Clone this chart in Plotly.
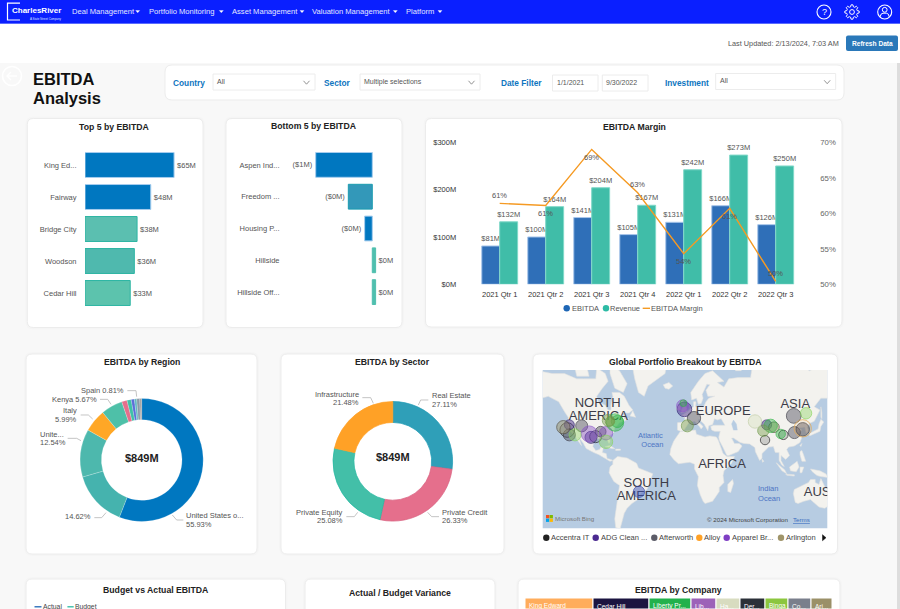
import math
import numpy as np
import plotly.graph_objects as go

W, H = 900, 609
FONT = "Liberation Sans"

# ---------- data ----------
top5_names = ["King Ed...", "Fairway", "Bridge City", "Woodson", "Cedar Hill"]
top5_values = [65, 48, 38, 36, 33]
top5_labels = ["$65M", "$48M", "$38M", "$36M", "$33M"]

bottom5_names = ["Aspen Ind...", "Freedom ...", "Housing P...", "Hillside", "Hillside Off..."]
bottom5_values = [-0.85, -0.36, -0.115, 0.05, 0.05]
bottom5_labels = ["($1M)", "($0M)", "($0M)", "$0M", "$0M"]

quarters = ["2021 Qtr 1", "2021 Qtr 2", "2021 Qtr 3", "2021 Qtr 4", "2022 Qtr 1", "2022 Qtr 2", "2022 Qtr 3"]
ebitda = [81, 100, 141, 105, 131, 166, 126]
revenue = [132, 164, 204, 167, 242, 273, 250]
margin = [61.4, 61.1, 69.0, 62.9, 54.3, 60.7, 50.4]
margin_labels = ["61%", "61%", "69%", "63%", "54%", "61%", "50%"]
margin_label_above = [True, False, False, True, False, False, True]

region_names = ["United States of America", "Region 2", "United Kingdom", "Italy", "Kenya",
                "Region 6", "Region 7", "Region 8", "Region 9", "Spain", "Region 11"]
region_values = [55.93, 14.62, 12.54, 5.99, 5.67, 1.40, 1.10, 0.84, 0.60, 0.81, 0.50]

sector_names = ["Real Estate", "Private Credit", "Private Equity", "Infrastructure"]
sector_values = [27.11, 26.33, 25.08, 21.48]

company_names = ["King Edward", "Cedar Hill", "Liberty Pr...", "Lib...", "Ha...", "Der...", "Binga", "Co...", "Ari..."]
company_values = [68, 56, 42, 25, 24, 25, 23, 23, 21]

# map points: company, lon, lat, EBITDA-like value
map_points = {
    "Accentra IT": ([-125, -95.1, 83.2, 102.5], [37.1, 31.3, 28.2, 32.9], [96, 64, 39, 39]),
    "ADG Clean ...": ([-122.8, -100, -1.7, 84.9], [41.3, 30.7, 52.4, 41.3], [44, 64, 96, 44]),
    "Afterworth": ([-122.8, -109.8, -89.8, 8.4, 113.4, 114.1, 122.9],
                   [32.9, 40.5, 35.7, 46.4, 48.0, 34.9, 37.7], [64, 64, 50, 79, 96, 64, 79]),
    "Alloy": ([122.9], [38.5], [133]),
    "Apparel Br...": ([-101.8, -84.2, -3.5], [33.7, 34.3, 54.6], [114, 79, 64]),
    "Arlington": ([-129.1, 92.6], [39.4, 39.4], [79, 50]),
    "Liberty Pr...": ([-74.7, -72.3, 89.1, 99.7, -2.8], [43.1, 43.9, 40.5, 33.7, 56.2], [133, 64, 79, 39, 20]),
    "Binga": ([-116.8, -84.2, 126.4], [32.9, 26.6, 49.8], [64, 79, 57]),
    "Hillside": ([-81.8, -80, 1.4, 81.4], [44.7, 43.9, 40.5, 36.5], [64, 39, 64, 57]),
    "Ha...": ([72.6], [43.9], [79]),
    "Aspen Ind...": ([-49.5], [-24.3], [57]),
}
map_label_text = ["NORTH", "AMERICA", "EUROPE", "ASIA", "AFRICA", "SOUTH", "AMERICA", "AUS"]
map_label_lon = [-93, -92.3, 39.2, 115, 37.9, -41.8, -41.8, 138]
map_label_lat = [55.8, 47.1, 50.9, 55, 3.5, -16, -28.9, -25.2]
ocean_label_text = ["Atlantic", "Ocean", "Indian", "Ocean"]
ocean_label_lon = [-37.5, -35.4, 86.5, 87.5]
ocean_label_lat = [31.6, 23.6, -22, -30.7]

land_north_america = [(-168,66),(-162,70),(-156,71),(-141,70),(-128,70),(-115,68),(-108,68),(-95,68),(-94,72),(-85,70),(-82,67),(-88,64),(-94,60),(-92,57),(-85,55),(-82,52),(-79,52),(-79,55),(-77,60),(-78,62),(-70,62),(-65,60),(-60,55),(-56,52),(-60,50),(-66,50),(-70,47),(-65,49),(-65,46),(-60,46),(-66,44),(-70,43),(-72,41),(-75,39),(-76,35),(-81,32),(-80,27),(-81,25),(-83,29),(-89,30),(-94,29),(-97,27),(-98,22),(-95,18),(-91,19),(-90,21),(-87,21),(-88,16),(-84,15),(-83,10),(-79,9),(-77,8),(-80,7),(-85,10),(-92,14),(-97,16),(-105,20),(-108,25),(-113,31),(-110,23),(-115,29),(-117,32.5),(-121,35),(-124,40),(-124,47),(-128,51),(-134,57),(-145,60),(-152,59),(-165,54),(-158,58),(-165,61),(-165,64)]
land_south_america = [(-77,8),(-72,12),(-62,10.5),(-52,5),(-50,0),(-44,-2.5),(-35,-6),(-37,-12),(-39,-18),(-41,-22),(-48,-26),(-50,-31),(-57,-35),(-62,-39),(-65,-43),(-68,-50),(-69,-53),(-65,-55),(-74,-53),(-75,-47),(-73,-37),(-70,-18),(-76,-14),(-81,-5),(-80,1),(-77,4)]
land_africa = [(-6,35.8),(10,37),(11,33.5),(20,31),(25,32),(32,31),(34,28),(37,21),(39,15),(43,12),(51,12),(48,5),(40,-3),(39,-8),(40,-15),(35,-20),(35,-24),(32,-28),(28,-33),(20,-35),(18,-33),(15,-27),(12,-18),(13,-9),(9,-1),(9,4),(4,6),(-4,5),(-8,4.5),(-13,9),(-17,14),(-16,20),(-13,27),(-10,31)]
land_eurasia = [(-9,37),(-9,43),(-2,43.5),(-1,46),(-4.5,48.5),(2,51),(5,53),(8,54),(8,57),(10.5,57),(10,54),(14,54),(19,54.5),(21,57),(24,59),(30,60),(23,60),(21,63),(25,65.5),(22,65.8),(17,61),(18,59),(16,56),(13,55.5),(11,59),(6,58),(5,62),(13,67),(20,70),(28,71),(40,67),(33,66.5),(40,64.5),(45,68),(55,68.5),(68,68.5),(70,73),(80,73),(100,76),(113,74),(130,71),(140,72.5),(160,70),(180,69),(180,65),(170,60),(163,60),(162,55),(156,51),(156,57),(163,62),(155,59),(142,59),(135,54),(141,52),(135,44),(130,42.5),(127.5,39.5),(129,36),(126.5,34.5),(126,37.5),(125,39.5),(121,39),(118,39),(122,37),(119,35),(122,31),(120,26),(114,22.5),(108,21.5),(106,19),(109,13),(105,9),(100,13),(100,8),(103.5,1.5),(101,3),(98,8),(98,16),(94,16),(92,22),(87,21.5),(80,15),(80,10),(77.5,8),(73,17),(72.5,21),(67,24.5),(61,25),(57,26),(50,30),(48,30),(51,25),(56,25),(59,22.5),(55,17),(45,13),(43,13),(39,21),(35,28),(34.5,31),(36,36),(30,36),(27,37),(26,40),(29,41),(41,41),(39,44),(37,46),(33,45),(30,46),(28,41.5),(24,40.5),(23,36.5),(20,40),(19,42),(13.5,45.5),(12.5,44),(18,40),(16,38),(12,42),(9,44),(3,43),(0,39),(-2,37),(-5.5,36)]
land_islands = [
    [(-80,73),(-70,71),(-62,66),(-66,62),(-75,64),(-80,70)],
    [(-117,72),(-105,73),(-102,69),(-115,69)],
    [(-73,78),(-60,82),(-30,83),(-18,77),(-22,70),(-40,65),(-44,60),(-50,62),(-54,68),(-58,75)],
    [(-24,65.5),(-18,66.5),(-14,65),(-18,63.5),(-22,64)],
    [(-85,22),(-80,23),(-75,20),(-78,20)],
    [(-74,19.5),(-69,19.5),(-69,18.3),(-74,18.2)],
    [(49,-12),(50,-16),(47,-25),(44,-24),(44,-17)],
    [(-5,50),(1,51),(1,53),(-2,56),(-3,58.5),(-6,57),(-3,54),(-5,52)],
    [(-10,52),(-6,52),(-6,55),(-9,54.5)],
    [(130,32),(136,34),(141,36),(142,40),(145,43.5),(142,45.5),(140,42),(139,38),(133,35.5),(130,34)],
    [(142,54),(143,50),(143,46),(142,47),(142,53)],
    [(120,23),(122,25),(121,22)],
    [(120,17),(122,18),(124,13),(126,7),(122,7),(120,14)],
    [(109,1),(117,7),(119,1),(116,-4),(110,-3)],
    [(95,5.5),(104,-2),(106,-6),(101,-3)],
    [(105,-6.5),(114,-7),(114,-8.5),(106,-7.5)],
    [(120,1),(124,1),(122,-5),(120,-5)],
    [(131,-1),(141,-3),(147,-6),(150,-10),(142,-9),(138,-8),(133,-4)],
    [(114,-22),(122,-18),(129,-15),(131,-12),(136,-12),(136,-15),(140,-17),(142,-11),(146,-19),(153,-26),(153,-31),(150,-37),(146,-39),(140,-38),(136,-35),(131,-31.5),(124,-33),(118,-35),(115,-34),(113,-26)],
    [(80,9.5),(82,7),(80.5,6),(80,8)],
    [(-59,48),(-53,47),(-56,51.5)],
    [(52,71),(58,71),(68,76),(60,75)],
]
water_caspian = [(50,45),(53,42),(54,37),(50,37),(48,42)]

# ---------- helpers ----------
def px(x): return x / W
def py(y): return 1 - y / H
def dx(a, b): return [a / W, b / W]
def dy(top, bottom): return [1 - bottom / H, 1 - top / H]

shapes, annos = [], []

def P(x, y): return f"{px(x):.5f},{py(y):.5f}"

def rr_path(x0, y0, x1, y1, r):
    return (f"M {P(x0+r,y0)} L {P(x1-r,y0)} Q {P(x1,y0)} {P(x1,y0+r)} L {P(x1,y1-r)} Q {P(x1,y1)} {P(x1-r,y1)} "
            f"L {P(x0+r,y1)} Q {P(x0,y1)} {P(x0,y1-r)} L {P(x0,y0+r)} Q {P(x0,y0)} {P(x0+r,y0)} Z")

def rect(x0, y0, x1, y1, fill, line=None, lw=0, layer="below"):
    shapes.append(dict(type="rect", xref="paper", yref="paper", x0=px(x0), x1=px(x1), y0=py(y1), y1=py(y0),
                       fillcolor=fill, line=dict(color=line or fill, width=lw), layer=layer))

def rrect(x0, y0, x1, y1, r, fill, line=None, lw=0, layer="below"):
    shapes.append(dict(type="path", xref="paper", yref="paper", path=rr_path(x0, y0, x1, y1, r),
                       fillcolor=fill, line=dict(color=line or fill, width=lw), layer=layer))

def card(x0, y0, x1, y1):
    rrect(x0 - 2, y0 - 2, x1 + 2, y1 + 2, 8, "rgba(0,0,0,0.012)")
    rrect(x0, y0, x1, y1, 6, "#ffffff", "#ececec", 1)

def poly(pts, color, width=1, fill=None, layer="above"):
    path = "M " + " L ".join(P(x, y) for x, y in pts)
    if fill:
        path += " Z"
    shapes.append(dict(type="path", xref="paper", yref="paper", path=path, layer=layer,
                       line=dict(color=color, width=width), fillcolor=fill or "rgba(0,0,0,0)"))

def circle(cx, cy, r, line=None, width=1, fill="rgba(0,0,0,0)", layer="above"):
    shapes.append(dict(type="circle", xref="paper", yref="paper", x0=px(cx-r), x1=px(cx+r), y0=py(cy+r), y1=py(cy-r),
                       line=dict(color=line or "rgba(0,0,0,0)", width=width), fillcolor=fill, layer=layer))

def txt(x, y, s, size=7.5, color="#555555", anchor="left", bold=False, family=FONT):
    if bold:
        s = "<b>" + s + "</b>"
    annos.append(dict(xref="paper", yref="paper", x=px(x), y=py(y), text=s, showarrow=False, xanchor=anchor,
                      yanchor="middle", align=anchor, borderpad=0, borderwidth=0,
                      font=dict(family=family, size=size, color=color)))

# ---------- page chrome ----------
rect(0, 63, W, H, "#f8f8f8")
rect(0, 0, W, 23, "#0a1fff")
rect(0, 23, W, 24, "#5a6bff")
rect(897, 63, W, H, "#dddddd")

poly([(20, 3.2), (7.5, 3.2), (7.5, 20), (20, 20)], "#ffffff", 1.2)
txt(11.5, 11, "CharlesRiver", 8, "#ffffff", bold=True)
txt(30, 19.3, "A State Street Company", 2.9, "#dfe4ff")
nav_items = [("Deal Management", 72.3, 137.7), ("Portfolio Monitoring", 148.7, 221.3), ("Asset Management", 232, 302),
             ("Valuation Management", 312.3, 395.3), ("Platform", 405.7, 440)]
for name, x, cx in nav_items:
    txt(x, 11.5, name, 7.6, "#e3e7ff")
    poly([(cx - 2, 10.5), (cx + 2, 10.5), (cx, 12.8)], "#ffffff", 0.3, fill="#ffffff")

circle(824, 12, 7, "#ffffff", 1.1)
txt(824, 12, "?", 9, "#ffffff", "center")
g = []
for i in range(48):
    a = 2 * math.pi * i / 48
    r = 7.2 if (i % 6) in (0, 1, 5) else 5.4
    g.append((852 + r * math.cos(a), 12 + r * math.sin(a)))
poly(g, "#ffffff", 1, fill="#0a1fff")
circle(852, 12, 2.4, "#ffffff", 1)
circle(884.7, 12, 7, "#ffffff", 1.1)
circle(884.7, 9.8, 2.4, "#ffffff", 1)
poly([(880.2, 16.8), (881, 14.2), (883, 13.2), (886.4, 13.2), (888.4, 14.2), (889.2, 16.8)], "#ffffff", 1)

txt(839, 43, "Last Updated: 2/13/2024, 7:03 AM", 7.3, "#555555", "right")
rrect(846, 35.5, 898, 51, 2, "#2a78b9")
txt(872, 43.2, "Refresh Data", 6.6, "#ffffff", "center", bold=True)

circle(12, 76, 9.5, "#ffffff", 1.6, layer="below")
poly([(17, 76), (7, 76)], "#ffffff", 1.4, layer="below")
poly([(11, 72), (7, 76), (11, 80)], "#ffffff", 1.4, layer="below")
txt(32.5, 79, "EBITDA", 16.5, "#111111", bold=True)
txt(32.5, 98, "Analysis", 16.5, "#111111", bold=True)

rrect(165, 65, 844, 100, 7, "#ffffff", "#ececec", 1)
BLUE = "#0e75c0"
def dropdown(x0, x1, y0, y1, s, chev=True):
    rect(x0, y0, x1, y1, "#ffffff", "#ececec", 1)
    txt(x0 + 4, (y0 + y1) / 2 - 0.5, s, 7, "#555555")
    if chev:
        cx, cy = x1 - 8.5, (y0 + y1) / 2 + 0.5
        poly([(cx - 3, cy - 1.7), (cx, cy + 1.7), (cx + 3, cy - 1.7)], "#777777", 0.8)
txt(173.3, 83, "Country", 8.3, BLUE, bold=True)
dropdown(213, 315, 74, 90, "All")
txt(324, 83, "Sector", 8.3, BLUE, bold=True)
dropdown(360, 480, 74, 90, "Multiple selections")
txt(500.7, 83, "Date Filter", 8.3, BLUE, bold=True)
dropdown(552.5, 598, 75, 91, "1/1/2021", chev=False)
dropdown(602.3, 648, 75, 91, "9/30/2022", chev=False)
txt(665, 83, "Investment", 8.3, BLUE, bold=True)
dropdown(715.7, 835.7, 73.5, 89.5, "All")

# cards
for c in [(27.3, 118.5, 203, 327.5), (226, 118.5, 402, 327.5), (425.5, 118.5, 842, 327),
          (26, 354, 257, 554), (281, 354, 504, 554), (533, 354, 837.5, 554),
          (26, 579, 285.5, 640), (305, 579, 495, 640), (518, 579, 840, 640)]:
    card(*c)

TITLE = "#222222"
txt(115, 126.7, "Top 5 by EBITDA", 8.7, TITLE, "center", True)
txt(314.3, 126.3, "Bottom 5 by EBITDA", 8.7, TITLE, "center", True)
txt(634, 127, "EBITDA Margin", 8.7, TITLE, "center", True)
txt(141.7, 362, "EBITDA by Region", 8.7, TITLE, "center", True)
txt(392.7, 362, "EBITDA by Sector", 8.7, TITLE, "center", True)
txt(685, 362, "Global Portfolio Breakout by EBITDA", 8.7, TITLE, "center", True)
txt(155.5, 590, "Budget vs Actual EBITDA", 8.7, TITLE, "center", True)
txt(400, 593.3, "Actual / Budget Variance", 8.7, TITLE, "center", True)
txt(678, 590, "EBITDA by Company", 8.7, TITLE, "center", True)

poly([(34.5, 606.8), (41.5, 606.8)], "#1e66b5", 1.3)
txt(42.6, 606.5, "Actual", 6.8, "#444444")
poly([(67.4, 606.8), (73.7, 606.8)], "#2dbba5", 1.3)
txt(74.8, 606.5, "Budget", 6.8, "#444444")

fig = go.Figure()

# ---------- top 5 ----------
fig.add_trace(go.Bar(
    y=top5_names, x=top5_values, orientation="h", xaxis="x", yaxis="y",
    text=top5_labels, textposition="outside", cliponaxis=False, showlegend=False, constraintext="none",
    textfont=dict(family=FONT, size=7.5, color="#555555"),
    marker=dict(color=["#0077c0", "#0077c0", "#5bbfb0", "#4fb9ae", "#5cc3ad"],
                line=dict(color=["#a6cdee", "#a6cdee", "#2db5a3", "#2db5a3", "#2db5a3"], width=1)),
))

# ---------- bottom 5 ----------
fig.add_trace(go.Bar(
    y=bottom5_names, x=bottom5_values, orientation="h", xaxis="x2", yaxis="y2",
    text=bottom5_labels, textposition="outside", cliponaxis=False, showlegend=False, constraintext="none",
    textfont=dict(family=FONT, size=7.5, color="#555555"),
    marker=dict(color=["#0077c0", "#3398b9", "#0077c0", "#4fbfae", "#4fbfae"],
                line=dict(color=["#a6cdee", "#1b9cb0", "#a6cdee", "#4fbfae", "#4fbfae"], width=1)),
))

# ---------- margin ----------
fig.add_trace(go.Bar(
    name="EBITDA", x=quarters, y=ebitda, xaxis="x3", yaxis="y3",
    text=[f"${v}M" for v in ebitda], textposition="outside", cliponaxis=False, showlegend=False, constraintext="none",
    textfont=dict(family=FONT, size=7.5, color="#555555"),
    marker=dict(color="#2f6fb8", line=dict(color="#a9c6ea", width=1)),
))
fig.add_trace(go.Bar(
    name="Revenue", x=quarters, y=revenue, xaxis="x3", yaxis="y3",
    text=[f"${v}M" for v in revenue], textposition="outside", cliponaxis=False, showlegend=False, constraintext="none",
    textfont=dict(family=FONT, size=7.5, color="#555555"),
    marker=dict(color="#40bda8", line=dict(color="#7fd8c8", width=1)),
))
fig.add_trace(go.Scatter(
    name="EBITDA Margin", x=quarters, y=margin, xaxis="x3", yaxis="y4", mode="lines",
    line=dict(color="#f59a23", width=1.4), showlegend=False,
))
for q, m, lab, above in zip(quarters, margin, margin_labels, margin_label_above):
    annos.append(dict(xref="x3", yref="y4", x=q, y=m, text=lab, showarrow=False, yshift=8 if above else -8,
                      font=dict(family=FONT, size=7.5, color="#555555")))
# margin legend
circle(566.7, 308.3, 3.2, fill="#1e66b5", layer="above")
txt(572, 308.3, "EBITDA", 7.5, "#555555")
circle(606, 308.3, 3.2, fill="#2dbba5", layer="above")
txt(610.3, 308.3, "Revenue", 7.5, "#555555")
poly([(642.7, 308.3), (650, 308.3)], "#f59a23", 1.4)
txt(651.3, 308.3, "EBITDA Margin", 7.5, "#555555")

# ---------- map ----------
def merc(lat):
    return np.log(np.tan(np.pi / 4 + np.radians(np.asarray(lat, dtype=float)) / 2))

def polys_to_xy(polys):
    xs, ys = [], []
    for pl in polys:
        for lo, la in list(pl) + [pl[0]]:
            xs.append(lo); ys.append(float(merc(la)))
        xs.append(None); ys.append(None)
    return xs, ys

lx, ly = polys_to_xy([land_north_america, land_south_america, land_africa, land_eurasia] + land_islands)
fig.add_trace(go.Scatter(x=lx, y=ly, xaxis="x5", yaxis="y5", mode="lines", fill="toself", fillcolor="#f3f2ee",
                         line=dict(color="#e2e3e0", width=0.6), hoverinfo="skip", showlegend=False))
wx, wy = polys_to_xy([water_caspian])
fig.add_trace(go.Scatter(x=wx, y=wy, xaxis="x5", yaxis="y5", mode="lines", fill="toself", fillcolor="#b7cce2",
                         line=dict(color="#b7cce2", width=0.4), hoverinfo="skip", showlegend=False))
fig.add_trace(go.Scatter(x=map_label_lon, y=merc(map_label_lat), xaxis="x5", yaxis="y5", mode="text", text=map_label_text,
                         textfont=dict(family=FONT, size=13, color="#3c3c48"), hoverinfo="skip", showlegend=False))
fig.add_trace(go.Scatter(x=ocean_label_lon, y=merc(ocean_label_lat), xaxis="x5", yaxis="y5", mode="text", text=ocean_label_text,
                         textfont=dict(family=FONT, size=7.5, color="#4d74c4"), hoverinfo="skip", showlegend=False))

bubble_style = {
    "Accentra IT": ("rgba(60,60,60,0.30)", "#222222"),
    "ADG Clean ...": ("rgba(60,30,130,0.65)", "#2b1a70"),
    "Afterworth": ("rgba(90,90,104,0.70)", "#3a3a44"),
    "Alloy": ("rgba(255,161,38,0.12)", "#e8a84a"),
    "Apparel Br...": ("rgba(130,75,195,0.60)", "#8a55c8"),
    "Arlington": ("rgba(160,149,106,0.70)", "#555040"),
    "Liberty Pr...": ("rgba(47,181,68,0.60)", "#2fb544"),
    "Binga": ("rgba(134,214,90,0.55)", "#86d65a"),
    "Hillside": ("rgba(125,160,80,0.65)", "#6f9a4a"),
    "Ha...": ("rgba(220,230,200,0.75)", "#c3cfa8"),
    "Aspen Ind...": ("rgba(58,84,184,0.70)", "#3348b0"),
}
for name, (lons, lats, vals) in map_points.items():
    fill, edge = bubble_style[name]
    fig.add_trace(go.Scatter(
        name=name, x=lons, y=merc(lats), xaxis="x5", yaxis="y5", mode="markers", showlegend=False,
        marker=dict(size=[1.5 * math.sqrt(v) for v in vals], color=fill, line=dict(color=edge, width=1)),
    ))

rect(542.7, 370, 827.3, 528.3, "#b7cce2")
for (ox, oy, c) in [(546, 515, "#f25022"), (549.6, 515, "#7fba00"), (546, 518.6, "#00a4ef"), (549.6, 518.6, "#ffb900")]:
    rect(ox, oy, ox + 3.3, oy + 3.3, c, layer="above")
txt(554.5, 518, "Microsoft Bing", 6.2, "#777777")
txt(788, 519.7, "© 2024 Microsoft Corporation", 6.2, "#444444", "right")
txt(793, 519.7, "<u>Terms</u>", 6.2, "#3b6cc0")
map_legend = [("Accentra IT", 546.3, "#222222"), ("ADG Clean ...", 595.7, "#4b2a90"), ("Afterworth", 654.3, "#5c5c68"),
              ("Alloy", 699.3, "#ffa126"), ("Apparel Br...", 726.7, "#7f3fc4"), ("Arlington", 781, "#a0956a")]
for name, x, c in map_legend:
    circle(x, 537.7, 3.2, fill=c)
    txt(x + 5, 537.7, name, 7.5, "#444444")
poly([(822.5, 534.7), (826, 537.7), (822.5, 540.7)], "#111111", 0.5, fill="#111111")

# ---------- donuts ----------
region_colors = ["#0077c0", "#45b3ae", "#4db8ad", "#ffa726", "#4ec0a8", "#e56f8c", "#3fc1a7", "#5b6fd8", "#5fb8c0", "#8a9aa8", "#a0a0a0"]
fig.add_trace(go.Pie(
    labels=region_names, values=region_values, hole=0.655, sort=False, direction="clockwise", rotation=0,
    domain=dict(x=dx(141.7 - 61.5, 141.7 + 61.5), y=dy(460 - 61.5, 460 + 61.5)), textinfo="none", showlegend=False,
    marker=dict(colors=region_colors, line=dict(color="rgba(255,255,255,0.5)", width=0.4)),
))
sector_colors = ["#2f9fb8", "#e56f8c", "#43bfa8", "#ffa126"]
fig.add_trace(go.Pie(
    labels=sector_names, values=sector_values, hole=0.65, sort=False, direction="clockwise", rotation=0,
    domain=dict(x=dx(392.8 - 59.8, 392.8 + 59.8), y=dy(461.3 - 59.8, 461.3 + 59.8)), textinfo="none", showlegend=False,
    marker=dict(colors=sector_colors, line=dict(color=["#1f9bb5", "#d9607f", "#22b8a0", "#ffa126"], width=0.7)),
))
txt(141.7, 457.5, "$849M", 11, "#222222", "center", True)
txt(392.7, 457.3, "$849M", 11, "#222222", "center", True)

def lead(ox, oy, pts):
    poly([(ox + a / 3, oy + b / 3) for a, b in pts], "#aaaaaa", 0.7)

LBL = 7.5
lead(20, 350, [(322,122),(348,122),(350,140)])
txt(20 + 313/3, 350 + 122/3, "Spain 0.81%", LBL, "#555555", "right")
lead(20, 350, [(240,148),(263,148),(273,163)])
txt(20 + 230/3, 350 + 148/3, "Kenya 5.67%", LBL, "#555555", "right")
lead(20, 350, [(182,195),(205,195),(218,207)])
txt(20 + 172/3, 350 + 183/3, "Italy", LBL, "#555555", "right")
txt(20 + 172/3, 350 + 207/3, "5.99%", LBL, "#555555", "right")
lead(20, 350, [(143,265),(170,265),(183,272)])
txt(20 + 60/3, 350 + 252/3, "Unite...", LBL)
txt(20 + 60/3, 350 + 278/3, "12.54%", LBL)
lead(20, 350, [(223,503),(245,503),(258,488)])
txt(20 + 213/3, 350 + 500/3, "14.62%", LBL, "#555555", "right")
lead(20, 350, [(490,510),(470,510),(457,495)])
txt(20 + 498/3, 350 + 497/3, "United States o...", LBL)
txt(20 + 498/3, 350 + 522/3, "55.93%", LBL)

lead(275, 350, [(262,143),(287,143),(295,160)])
txt(275 + 253/3, 350 + 132/3, "Infrastructure", LBL, "#555555", "right")
txt(275 + 253/3, 350 + 156/3, "21.48%", LBL, "#555555", "right")
lead(275, 350, [(460,150),(437,150),(430,165)])
txt(275 + 470/3, 350 + 137/3, "Real Estate", LBL)
txt(275 + 470/3, 350 + 162/3, "27.11%", LBL)
lead(275, 350, [(492,500),(470,500),(458,487)])
txt(275 + 502/3, 350 + 487/3, "Private Credit", LBL)
txt(275 + 502/3, 350 + 512/3, "26.33%", LBL)
lead(275, 350, [(214,500),(238,500),(248,487)])
txt(275 + 204/3, 350 + 487/3, "Private Equity", LBL, "#555555", "right")
txt(275 + 204/3, 350 + 512/3, "25.08%", LBL, "#555555", "right")

# ---------- company strip ----------
company_colors = ["#ffad5c", "#1b1440", "#22b14c", "#9c62b8", "#d8dcc0", "#2b3038", "#8cc63f", "#7a7f8c", "#9b9068"]
company_base = list(np.cumsum([0] + company_values[:-1]))
fig.add_trace(go.Bar(
    y=[0] * len(company_names), x=company_values, base=company_base, orientation="h", xaxis="x6", yaxis="y6",
    width=1, showlegend=False, hovertext=company_names, hoverinfo="text",
    marker=dict(color=company_colors, line=dict(color="#ffffff", width=1)),
))
for name, b in zip(company_names, company_base):
    annos.append(dict(xref="x6", yref="paper", x=int(b), y=py(606), text=name, showarrow=False, xanchor="left", xshift=2,
                      yanchor="middle", font=dict(family=FONT, size=6.5, color="#ffffff")))

# ---------- layout ----------
hidden = dict(visible=False, fixedrange=True)
def cat_axis(domain, anchor):
    return dict(domain=domain, anchor=anchor, autorange="reversed", showgrid=False, zeroline=False, showline=False,
                ticks="outside", ticklen=6, tickcolor="rgba(0,0,0,0)",
                tickfont=dict(family=FONT, size=7.5, color="#555555"))

fig.update_layout(
    width=W, height=H, margin=dict(l=0, r=0, t=0, b=0, pad=0, autoexpand=False), autosize=False,
    paper_bgcolor="#ffffff", plot_bgcolor="rgba(0,0,0,0)",
    barmode="group", bargap=0.22, bargroupgap=0, showlegend=False,
    font=dict(family=FONT, size=7.5, color="#555555"),
    shapes=shapes, annotations=annos,
    xaxis=dict(domain=dx(85, 196), range=[0, 81], anchor="y", **hidden),
    yaxis=cat_axis(dy(149, 309), "x"),
    xaxis2=dict(domain=dx(288, 390), range=[-1.266, 0.266], anchor="y2", **hidden),
    yaxis2=cat_axis(dy(149, 308), "x2"),
    xaxis3=dict(domain=dx(476.7, 798.7), anchor="y3", showgrid=False, zeroline=False, showline=False,
                ticks="outside", ticklen=3, tickcolor="rgba(0,0,0,0)",
                tickfont=dict(family=FONT, size=7.5, color="#333333")),
    yaxis3=dict(domain=dy(142.3, 284.3), range=[0, 300], anchor="x3", tickvals=[0, 100, 200, 300],
                ticktext=["$0M", "$100M", "$200M", "$300M"], showgrid=False, zeroline=False, showline=False,
                ticks="outside", ticklen=18, tickcolor="rgba(0,0,0,0)",
                tickfont=dict(family=FONT, size=7.5, color="#333333")),
    yaxis4=dict(domain=dy(142.3, 284.3), range=[50, 70], anchor="x3", overlaying="y3", side="right",
                tickvals=[50, 55, 60, 65, 70], ticktext=["50%", "55%", "60%", "65%", "70%"],
                showgrid=False, zeroline=False, showline=False, ticks="outside", ticklen=19,
                tickcolor="rgba(0,0,0,0)", tickfont=dict(family=FONT, size=7.8, color="#666666")),
    xaxis5=dict(domain=dx(542.7, 827.3), range=[(542.7 - 686) / 0.95, (827.3 - 686) / 0.95], anchor="y5", **hidden),
    yaxis5=dict(domain=dy(370, 528.3), range=[(468 - 528.3) / 54.43, (468 - 370) / 54.43], anchor="x5", **hidden),
    xaxis6=dict(domain=dx(525, 832), range=[0, 307], anchor="y6", **hidden),
    yaxis6=dict(domain=dy(598, 609), range=[-0.5, 0.5], anchor="x6", **hidden),
)

fig.write_html("out.html", config=dict(displayModeBar=False),
               post_script="document.documentElement.style.margin='0';document.body.style.margin='0';document.body.style.padding='0';document.body.style.overflow='hidden';var g=document.querySelector('.plotly-graph-div');g.style.position='fixed';g.style.top='0';g.style.left='0';")
